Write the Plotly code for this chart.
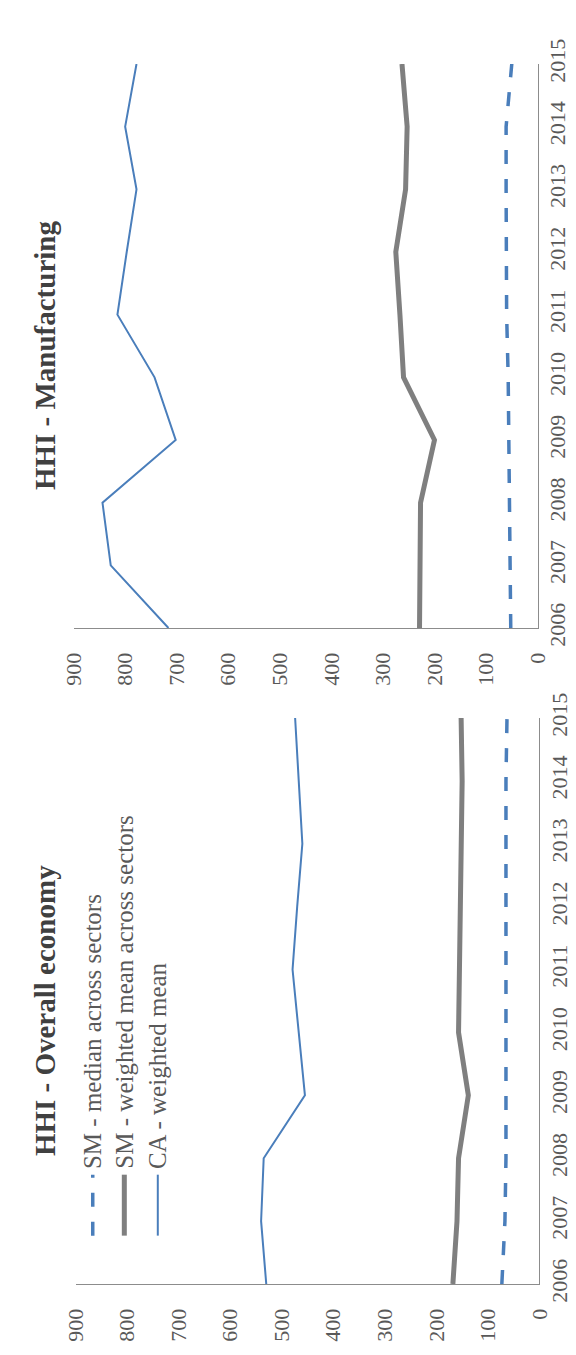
import plotly.graph_objects as go

# ---------------- data ----------------
years = [2006, 2007, 2008, 2009, 2010, 2011, 2012, 2013, 2014, 2015]
value_ticks = [0, 100, 200, 300, 400, 500, 600, 700, 800, 900]

# HHI - Manufacturing
mfg_sm_median = [52, 53, 54, 55, 57, 60, 61, 61, 61, 50]
mfg_sm_wmean = [229, 229, 227, 200, 260, 267, 275, 256, 253, 263]
mfg_ca_wmean = [716, 828, 844, 702, 743, 815, 797, 778, 800, 778]

# HHI - Overall economy
ov_sm_median = [73, 67, 65, 65, 65, 65, 65, 65, 65, 63]
ov_sm_wmean = [168, 160, 157, 138, 157, 155, 155, 153, 150, 152]
ov_ca_wmean = [530, 540, 535, 455, 467, 479, 470, 460, 467, 474]

series_names = ["SM - median across sectors",
                "SM - weighted mean across sectors",
                "CA - weighted mean"]
titles = ["HHI - Manufacturing", "HHI - Overall economy"]

# ---------------- styles ----------------
W, H = 576, 1355
BLUE = "#4a7ebb"
GRAY = "#7f7f7f"
AXIS = "#8c8c8c"
TXT = "#595959"
SERIF = "Liberation Serif, Times New Roman, serif"

styles = [
    dict(color=BLUE, width=3.5, dash="14px,15px"),
    dict(color=GRAY, width=5),
    dict(color=BLUE, width=2),
]

def px_x(x):
    return x / W

def px_y(y):
    return 1 - y / H

fig = go.Figure()

panels = [
    ("x", "y", [mfg_sm_median, mfg_sm_wmean, mfg_ca_wmean]),
    ("x2", "y2", [ov_sm_median, ov_sm_wmean, ov_ca_wmean]),
]
for xa, ya, data in panels:
    for name, vals, st in zip(series_names, data, styles):
        fig.add_trace(go.Scatter(x=vals, y=years, mode="lines", name=name,
                                 line=st, xaxis=xa, yaxis=ya,
                                 showlegend=False, hoverinfo="skip"))

# panel pixel geometry (top panel, bottom panel)
geo = [
    dict(x0=55, x1=540, ytop=32, ybot=615),
    dict(x0=57, x1=542, ytop=708, ybot=1293),
]

def xaxis_cfg(g, anchor):
    return dict(domain=[px_x(g["x0"]), px_x(g["x1"])], range=[900, 0],
                anchor=anchor, showgrid=False, zeroline=False,
                showline=True, linecolor=AXIS, linewidth=1,
                tickvals=value_ticks, ticktext=[str(v) for v in value_ticks],
                tickangle=-90, ticks="outside", ticklen=15,
                tickcolor="rgba(0,0,0,0)",
                tickfont=dict(family=SERIF, size=22, color=TXT))

def yaxis_cfg(g, anchor):
    return dict(domain=[px_y(g["ybot"]), px_y(g["ytop"])], range=[2006, 2015],
                anchor=anchor, side="right", showgrid=False, zeroline=False,
                showline=True, linecolor=AXIS, linewidth=1,
                tickvals=years, ticktext=[str(v) for v in years],
                tickangle=-90, ticks="",
                tickfont=dict(family=SERIF, size=22, color=TXT))

fig.update_layout(
    width=W, height=H, autosize=False,
    margin=dict(l=0, r=0, t=0, b=0),
    paper_bgcolor="white", plot_bgcolor="white",
    xaxis=xaxis_cfg(geo[0], "y"), yaxis=yaxis_cfg(geo[0], "x"),
    xaxis2=xaxis_cfg(geo[1], "y2"), yaxis2=yaxis_cfg(geo[1], "x2"),
)

# titles (rotated)
title_pos = [(25, 333), (25, 1010)]
for t, (tx, ty) in zip(titles, title_pos):
    fig.add_annotation(text="<b>" + t + "</b>", x=px_x(tx), y=px_y(ty),
                       xref="paper", yref="paper", showarrow=False,
                       textangle=-90, xanchor="center", yanchor="middle",
                       font=dict(family=SERIF, size=29, color="#404040"))

# legend (rotated) in bottom panel
leg_x = [75, 108, 143]
for name, st, lx in zip(series_names, styles, leg_x):
    fig.add_shape(type="line", xref="paper", yref="paper",
                  x0=px_x(lx), x1=px_x(lx), y0=px_y(1243), y1=px_y(1180),
                  line=st)
    fig.add_annotation(text=name, x=px_x(lx), y=px_y(1176),
                       xref="paper", yref="paper", showarrow=False,
                       textangle=-90, xanchor="center", yanchor="bottom",
                       font=dict(family=SERIF, size=25, color=TXT))

fig.write_html("out.html")
